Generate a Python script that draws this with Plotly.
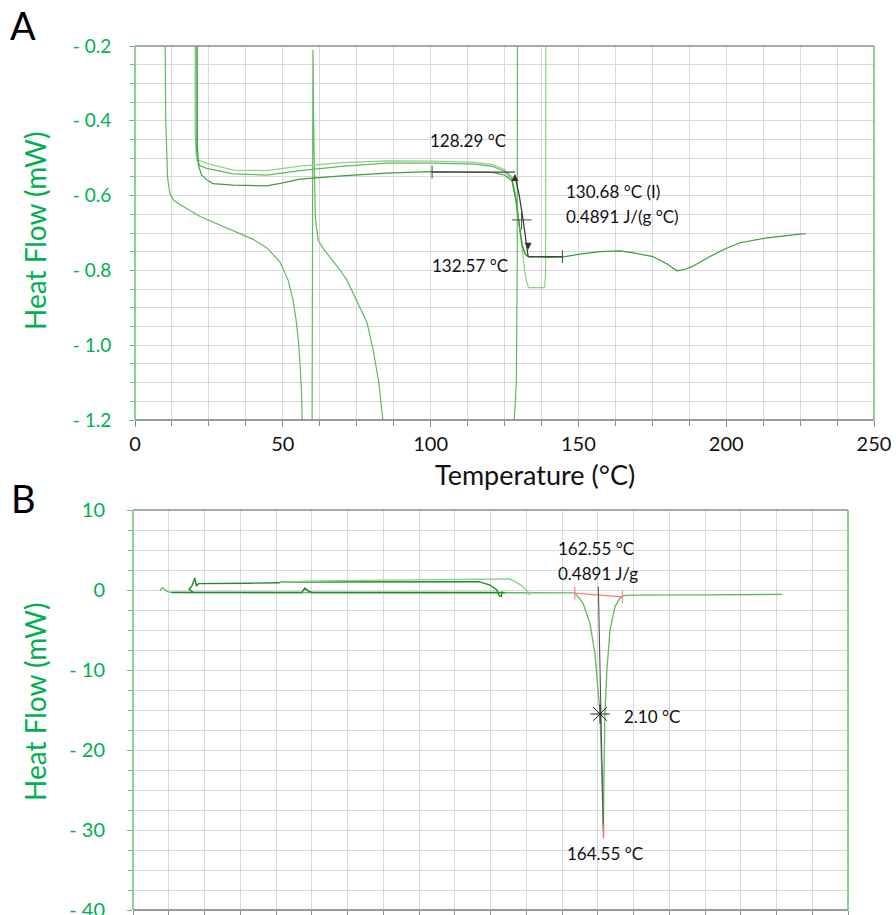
import plotly.graph_objects as go

W, H = 896, 915


def px(xp):
    return xp / W


def py(yp):
    return 1 - yp / H


# ---------------- Panel A data (Temperature °C, Heat flow mW) ----------------
a_cool1_x = [10.1, 10.4, 11.0, 11.8, 13.0, 16.0, 22.0, 28.0, 35.5, 40.0, 44.6, 49.0, 51.8, 53.5, 54.5, 55.3, 55.8, 56.3, 56.7]
a_cool1_y = [-0.10, -0.40, -0.55, -0.595, -0.612, -0.628, -0.656, -0.676, -0.700, -0.717, -0.740, -0.777, -0.826, -0.880, -0.933, -0.990, -1.047, -1.120, -1.250]

a_cool2_x = [59.9, 60.0, 60.2, 60.5, 61.0, 62.0, 64.0, 66.0, 69.0, 71.7, 75.0, 78.5, 80.5, 82.5, 84.5]
a_cool2_y = [-1.25, -0.30, -0.21, -0.45, -0.66, -0.72, -0.745, -0.765, -0.795, -0.826, -0.880, -0.940, -1.010, -1.100, -1.250]

a_cool3_x = [127.3, 128.4, 129.0, 129.3, 129.4]
a_cool3_y = [-1.25, -1.19, -1.10, -0.80, -0.10]

a_heat1_x = [20.3, 20.4, 20.7, 21.5, 24.3, 33.2, 44.6, 55.8, 70.0, 85.0, 100.0, 115.0, 121.0, 125.0, 127.5, 128.8, 130.0, 131.0, 131.8, 132.6, 133.2, 136.0, 138.6, 138.9, 139.0]
a_heat1_y = [-0.10, -0.45, -0.49, -0.505, -0.514, -0.532, -0.533, -0.521, -0.512, -0.507, -0.508, -0.511, -0.517, -0.530, -0.550, -0.600, -0.680, -0.750, -0.800, -0.835, -0.846, -0.846, -0.846, -0.800, -0.100]

a_heat2_x = [20.6, 20.7, 21.0, 22.0, 24.3, 33.2, 44.6, 55.8, 70.0, 85.0, 100.0, 115.0, 121.0, 125.0, 127.5, 128.8, 130.0, 131.0, 132.0, 133.0, 134.5]
a_heat2_y = [-0.10, -0.46, -0.505, -0.52, -0.527, -0.542, -0.545, -0.533, -0.522, -0.513, -0.513, -0.516, -0.522, -0.535, -0.555, -0.605, -0.680, -0.730, -0.755, -0.763, -0.765]

a_heat3_x = [21.0, 21.1, 21.5, 22.5, 24.3, 26.4, 33.2, 44.6, 50.0, 55.8, 70.0, 85.0, 100.0, 115.0, 121.0, 125.0, 127.5, 128.8, 130.0, 131.0, 132.0, 133.0, 136.0, 140.0, 145.0, 150.0, 157.3, 164.0, 168.5, 175.2, 180.0, 183.4, 186.0, 187.1, 188.4, 194.5, 200.3, 204.7, 213.8, 225.0, 227.0]
a_heat3_y = [-0.10, -0.47, -0.52, -0.545, -0.558, -0.568, -0.572, -0.574, -0.566, -0.556, -0.547, -0.540, -0.536, -0.536, -0.538, -0.545, -0.560, -0.610, -0.685, -0.735, -0.757, -0.763, -0.764, -0.765, -0.764, -0.757, -0.750, -0.748, -0.753, -0.763, -0.783, -0.801, -0.797, -0.794, -0.790, -0.763, -0.740, -0.726, -0.713, -0.703, -0.702]

# analysis (tangent) lines, panel A
a_tan1_x = [100.5, 128.5]
a_tan1_y = [-0.537, -0.537]
a_tan2_x = [128.5, 130.0, 131.3, 132.6, 133.0]
a_tan2_y = [-0.545, -0.600, -0.665, -0.745, -0.763]
a_tan3_x = [133.0, 144.6]
a_tan3_y = [-0.763, -0.763]
a_ticks_x = [100.5, 144.6]
a_ticks_y = [-0.537, -0.763]
a_inflect_x = [130.8]
a_inflect_y = [-0.665]

a_labels = ["128.29 °C", "130.68 °C (I)", "0.4891 J/(g °C)", "132.57 °C"]

# ---------------- Panel B data ----------------
b_base_x = [9.4, 10.2, 11.0, 12.0, 13.5, 20.0, 40.0, 60.0, 80.0, 100.0, 120.0, 140.0, 150.0, 154.5, 157.3, 159.8, 161.5, 162.6, 163.3, 163.9, 164.45, 164.7, 165.0, 165.7, 166.8, 168.5, 170.3, 171.3, 175.0, 200.0, 227.0]
b_base_y = [-0.1, 0.3, 0.1, -0.2, -0.3, -0.3, -0.3, -0.3, -0.3, -0.3, -0.3, -0.3, -0.3, -0.35, -1.6, -4.2, -7.9, -12.1, -15.4, -22.5, -30.0, -22.5, -15.4, -10.0, -5.0, -2.1, -1.0, -0.7, -0.65, -0.6, -0.55]

b_run2_x = [21.0, 19.6, 20.6, 21.6, 22.2, 23.0, 40.0, 51.0, 52.0, 80.0, 110.0, 121.0, 124.8, 127.2, 128.1, 128.8, 129.1]
b_run2_y = [-0.3, 0.1, 0.5, 1.5, 0.5, 0.8, 0.85, 0.9, 1.0, 1.02, 1.05, 1.04, 0.62, 0.0, -0.75, -0.8, -0.2]

b_run3_x = [51.4, 60.0, 80.0, 100.0, 120.0, 131.8, 134.7, 137.1, 138.2, 138.6, 139.0]
b_run3_y = [0.95, 1.10, 1.20, 1.30, 1.37, 1.37, 0.83, 0.20, -0.50, -0.55, -0.20]

b_run4_x = [13.5, 59.0, 60.1, 61.2, 62.5, 130.0]
b_run4_y = [-0.3, -0.3, 0.25, -0.1, -0.3, -0.3]

# analysis lines, panel B
b_baseline_x = [154.5, 171.1]
b_baseline_y = [-0.4, -0.85]
b_peakline_x = [162.7, 164.45]
b_peakline_y = [0.4, -30.0]
b_peakmark_x = [164.5, 164.5]
b_peakmark_y = [-29.3, -31.0]
b_half_x = [163.3]
b_half_y = [-15.5]

b_labels = ["162.55 °C", "0.4891 J/g", "2.10 °C", "164.55 °C"]

# tick labels
a_xticks = [0, 50, 100, 150, 200, 250]
a_yticks = [-0.2, -0.4, -0.6, -0.8, -1.0, -1.2]
a_yticktext = ["- 0.2", "- 0.4", "- 0.6", "- 0.8", "- 1.0", "- 1.2"]
b_yticks = [10, 0, -10, -20, -30, -40]
b_yticktext = ["10", "0", "- 10", "- 20", "- 30", "- 40"]

# ---------------- styling ----------------
FONT = "Lato"
GREEN_TXT = "#00b050"
GRID = "#d9d9d9"
AX_GREEN = "#6cc06c"
AX_GRAY = "#8c8c8c"
C_LIGHT = "#8fd08f"
C_MID = "#62b862"
C_DARK = "#3a9e3a"
C_DARKER = "#1f8c28"

fig = go.Figure()


def line(x, y, color, width=1.2, xa="x", ya="y"):
    fig.add_trace(go.Scatter(x=x, y=y, mode="lines", xaxis=xa, yaxis=ya,
                             line=dict(color=color, width=width),
                             showlegend=False, hoverinfo="skip"))


# panel A curves
line(a_cool1_x, a_cool1_y, C_MID)
line(a_cool2_x, a_cool2_y, C_MID)
line(a_cool3_x, a_cool3_y, C_MID)
line(a_heat1_x, a_heat1_y, C_LIGHT)
line(a_heat2_x, a_heat2_y, C_MID)
line(a_heat3_x, a_heat3_y, C_DARK)
# analysis
line(a_tan1_x, a_tan1_y, "#444444", 1.2)
line(a_tan2_x, a_tan2_y, "#333333", 1.2)
line(a_tan3_x, a_tan3_y, "#444444", 1.2)
fig.add_trace(go.Scatter(x=a_ticks_x, y=a_ticks_y, mode="markers", xaxis="x", yaxis="y",
                         marker=dict(symbol="line-ns", size=9, color="#444444", line=dict(color="#444444", width=1)),
                         showlegend=False, hoverinfo="skip"))
fig.add_trace(go.Scatter(x=a_inflect_x, y=a_inflect_y, mode="markers", xaxis="x", yaxis="y",
                         marker=dict(symbol="cross-thin", size=14, color="#444444", line=dict(color="#444444", width=1)),
                         showlegend=False, hoverinfo="skip"))
fig.add_trace(go.Scatter(x=[a_tan1_x[1], a_tan3_x[0]], y=[a_tan1_y[1] - 0.005, a_tan2_y[3]],
                         mode="markers", xaxis="x", yaxis="y",
                         marker=dict(symbol=["arrow-up", "arrow-down"], size=7, color="#333333"),
                         showlegend=False, hoverinfo="skip"))

# panel B curves
line(b_base_x, b_base_y, C_MID, 1.3, "x2", "y2")
line(b_run4_x, b_run4_y, C_DARKER, 1.5, "x2", "y2")
line(b_run2_x, b_run2_y, C_DARKER, 1.4, "x2", "y2")
line(b_run3_x, b_run3_y, C_LIGHT, 1.4, "x2", "y2")
line(b_baseline_x, b_baseline_y, "#ff7b7b", 1.2, "x2", "y2")
fig.add_trace(go.Scatter(x=b_baseline_x, y=b_baseline_y, mode="markers", xaxis="x2", yaxis="y2",
                         marker=dict(symbol="line-ns", size=9, color="#ff6b6b", line=dict(color="#ff6b6b", width=1)),
                         showlegend=False, hoverinfo="skip"))
line(b_peakline_x, b_peakline_y, "#555555", 1.1, "x2", "y2")
line(b_peakmark_x, b_peakmark_y, "#ff6b6b", 1.5, "x2", "y2")
fig.add_trace(go.Scatter(x=b_half_x, y=b_half_y, mode="markers", xaxis="x2", yaxis="y2",
                         marker=dict(symbol="asterisk-open", size=16, color="#222222", line=dict(color="#222222", width=1)),
                         showlegend=False, hoverinfo="skip"))

# ---------------- axes ----------------
ax_common = dict(showline=False, zeroline=False, showgrid=True, gridcolor=GRID, gridwidth=1.3, automargin=False)

xA = dict(domain=[px(135), px(874)], range=[0, 250], anchor="y",
          tickvals=a_xticks, ticks="outside", ticklen=6, tickcolor=AX_GRAY,
          tickfont=dict(family=FONT, size=20, color="#111111"),
          minor=dict(dtick=12.5, tick0=0, showgrid=True, gridcolor=GRID, ticks="outside", ticklen=5, tickcolor=AX_GRAY),
          **ax_common)
yA = dict(domain=[py(420), py(46)], range=[-1.2, -0.2], anchor="x",
          tickvals=a_yticks, ticktext=a_yticktext, ticks="outside", ticklen=5, tickcolor=AX_GREEN,
          ticklabelstandoff=14,
          tickfont=dict(family=FONT, size=19, color=GREEN_TXT),
          minor=dict(dtick=0.05, tick0=-1.2, showgrid=True, gridcolor=GRID, ticks="outside", ticklen=4, tickcolor=AX_GREEN),
          **ax_common)
xB = dict(domain=[px(133), px(848)], range=[0, 250], anchor="y2",
          dtick=12.5, tick0=0, showticklabels=False, ticks="outside", ticklen=6, tickcolor=AX_GRAY,
          **ax_common)
yB = dict(domain=[py(910), py(510)], range=[-40, 10], anchor="x2",
          tickvals=b_yticks, ticktext=b_yticktext, ticks="outside", ticklen=5, tickcolor=AX_GREEN,
          ticklabelstandoff=18, ticklabeloverflow="allow",
          tickfont=dict(family=FONT, size=20, color=GREEN_TXT),
          minor=dict(dtick=2.5, tick0=-40, showgrid=True, gridcolor=GRID, ticks="outside", ticklen=4, tickcolor=AX_GREEN),
          **ax_common)

# frame lines (green left/right, gray top/bottom)
shapes = []
for xr, yr in (("x", "y"), ("x2", "y2")):
    xd, yd = xr + " domain", yr + " domain"
    shapes += [
        dict(type="line", xref=xd, yref=yd, x0=0, x1=1, y0=1, y1=1, line=dict(color=AX_GRAY, width=1.5)),
        dict(type="line", xref=xd, yref=yd, x0=0, x1=1, y0=0, y1=0, line=dict(color="#7a7a7a", width=1.5)),
        dict(type="line", xref=xd, yref=yd, x0=0, x1=0, y0=0, y1=1, line=dict(color=AX_GREEN, width=1.5)),
        dict(type="line", xref=xd, yref=yd, x0=1, x1=1, y0=0, y1=1, line=dict(color=AX_GREEN, width=1.5)),
    ]

ann_font = dict(family=FONT, size=17, color="#111111")


def pann(xp, yp, text, size, color, angle=0):
    return dict(x=px(xp), y=py(yp), xref="paper", yref="paper", text=text, showarrow=False,
                xanchor="center", yanchor="middle", textangle=angle,
                font=dict(family=FONT, size=size, color=color))


annotations = [
    # panel A labels
    dict(x=112.7, y=-0.454, xref="x", yref="y", text=a_labels[0], showarrow=False, font=ann_font),
    dict(x=145.1, y=-0.590, xref="x", yref="y", text=a_labels[1], showarrow=False, xanchor="left", font=ann_font),
    dict(x=145.1, y=-0.657, xref="x", yref="y", text=a_labels[2], showarrow=False, xanchor="left", font=ann_font),
    dict(x=113.3, y=-0.788, xref="x", yref="y", text=a_labels[3], showarrow=False, font=ann_font),
    # panel B labels
    dict(x=147.9, y=5.25, xref="x2", yref="y2", text=b_labels[0], showarrow=False, xanchor="left", font=ann_font),
    dict(x=147.9, y=2.1, xref="x2", yref="y2", text=b_labels[1], showarrow=False, xanchor="left", font=ann_font),
    dict(x=171.0, y=-15.75, xref="x2", yref="y2", text=b_labels[2], showarrow=False, xanchor="left", font=ann_font),
    dict(x=165.0, y=-32.9, xref="x2", yref="y2", text=b_labels[3], showarrow=False, font=ann_font),
    # panel letters
    pann(23, 25, "A", 38, "#000000"),
    pann(23, 498, "B", 38, "#000000"),
    # axis titles
    pann(535, 474, "Temperature (°C)", 27, "#111111"),
    pann(35, 231, "Heat Flow (mW)", 28, GREEN_TXT, -90),
    pann(35, 702, "Heat Flow (mW)", 28, GREEN_TXT, -90),
]

fig.update_layout(
    width=W, height=H,
    margin=dict(l=0, r=0, t=0, b=0),
    paper_bgcolor="white", plot_bgcolor="white",
    font=dict(family=FONT),
    xaxis=xA, yaxis=yA, xaxis2=xB, yaxis2=yB,
    shapes=shapes, annotations=annotations,
    showlegend=False,
)

# remove the browser's default 8px page margin so the figure fills the window exactly
fig.write_html("out.html",
               config={"displayModeBar": False},
               post_script="document.body.style.margin='0px';document.body.style.overflow='hidden';")
